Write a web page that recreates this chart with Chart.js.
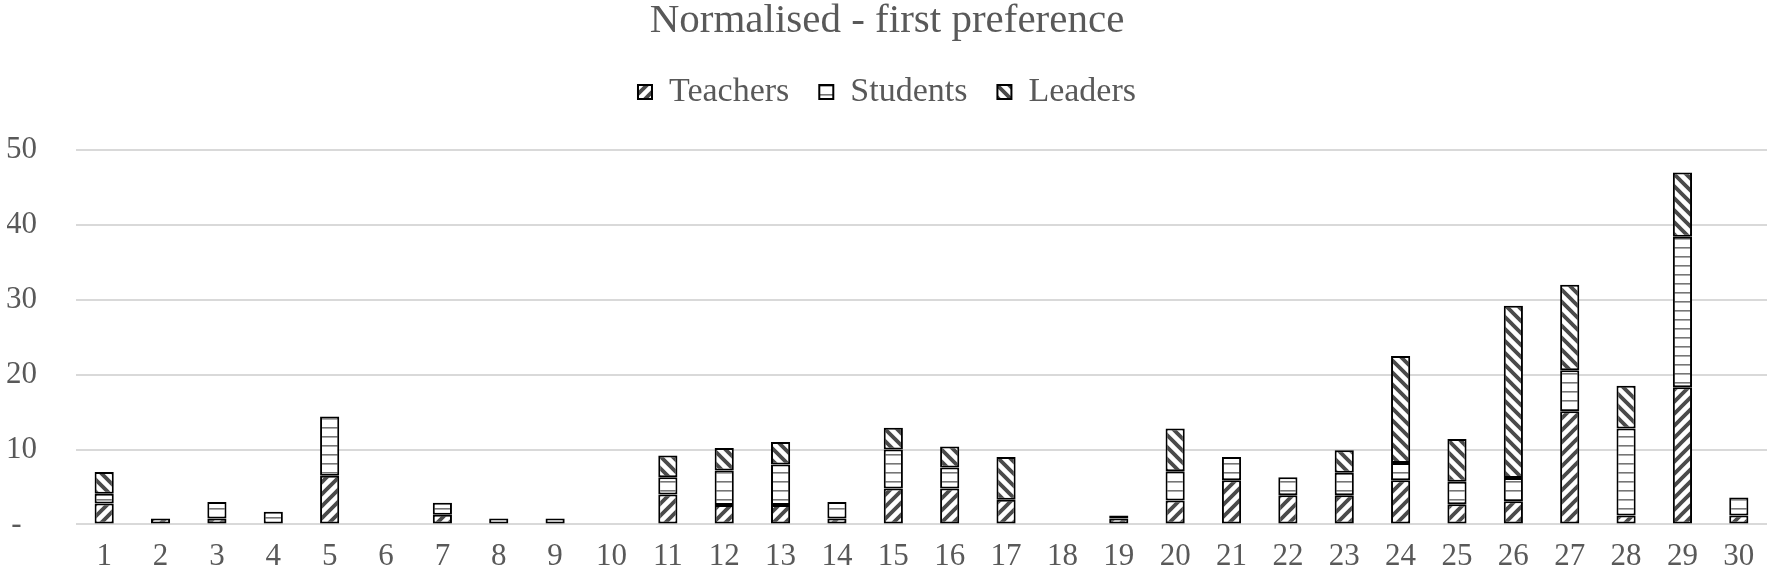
<!DOCTYPE html>
<html>
<head>
<meta charset="utf-8">
<script src="https://cdn.jsdelivr.net/npm/chart.js@4/dist/chart.umd.min.js"></script>
<style>
  html, body { margin: 0; padding: 0; background: #ffffff; }
  #wrap { width: 1772px; height: 582px; position: relative; }
</style>
</head>
<body>
<div id="wrap"><canvas id="c" width="1772" height="582"></canvas></div>
<script>
const categories = ['1','2','3','4','5','6','7','8','9','10','11','12','13','14','15','16','17','18','19','20','21','22','23','24','25','26','27','28','29','30'];
const teachers = [2.8,0.8,0.8,0,6.5,0,1.3,0,0,0,4.0,2.6,2.6,0.8,4.8,4.8,3.3,0,0.8,3.2,5.9,3.9,3.9,5.9,2.7,3.1,15.1,1.2,18.3,1.2];
const students = [1.3,0,2.2,1.7,7.9,0,1.6,0.8,0.8,0,2.3,4.6,5.4,2.2,5.2,2.8,0,0,0.4,3.9,3.1,2.4,3.0,2.3,3.0,3.1,5.5,11.6,20.1,2.4];
const leaders = [2.9,0,0,0,0,0,0,0,0,0,2.9,3.0,3.0,0,2.9,2.8,5.7,0,0,5.7,0,0,3.0,14.3,5.7,23.0,11.4,5.7,8.6,0];
const yTickLabels = {0:'-  ', 10:'10', 20:'20', 30:'30', 40:'40', 50:'50'};
const seriesNames = ['Teachers','Students','Leaders'];

function makePattern(kind) {
  const s = kind === 'horiz' ? 9 : 12;
  const cv = document.createElement('canvas');
  cv.width = s; cv.height = s;
  const g = cv.getContext('2d');
  g.fillStyle = '#ffffff';
  g.fillRect(0, 0, s, s);
  if (kind === 'horiz') {
    g.fillStyle = '#767676';
    g.fillRect(0, 4, s, 1.6);
  } else {
    g.strokeStyle = '#4a4a4a';
    g.lineWidth = 3.8;
    g.beginPath();
    if (kind === 'up') {
      g.moveTo(-2, s + 2); g.lineTo(s + 2, -2);
      g.moveTo(-s / 2 - 2, s / 2 + 2); g.lineTo(s / 2 + 2, -s / 2 - 2);
      g.moveTo(s / 2 - 2, 1.5 * s + 2); g.lineTo(1.5 * s + 2, s / 2 - 2);
    } else {
      g.moveTo(-2, -2); g.lineTo(s + 2, s + 2);
      g.moveTo(-s / 2 - 2, s / 2 - 2); g.lineTo(s / 2 + 2, 1.5 * s + 2);
      g.moveTo(s / 2 - 2, -s / 2 - 2); g.lineTo(1.5 * s + 2, s / 2 + 2);
    }
    g.stroke();
  }
  return g.createPattern(cv, 'repeat');
}

const legendSpacer = {
  id: 'legendSpacer',
  beforeInit(chart) {
    const origFit = chart.legend.fit;
    chart.legend.fit = function () {
      origFit.bind(chart.legend)();
      this.height += 31;
    };
  }
};

const textGray = '#595959';
const common = { borderColor: '#000000', borderWidth: 2, borderSkipped: false, barPercentage: 0.34, categoryPercentage: 1.0 };

new Chart(document.getElementById('c'), {
  type: 'bar',
  data: {
    labels: categories,
    datasets: [
      Object.assign({ label: seriesNames[0], data: teachers, backgroundColor: makePattern('up') }, common),
      Object.assign({ label: seriesNames[1], data: students, backgroundColor: makePattern('horiz') }, common),
      Object.assign({ label: seriesNames[2], data: leaders, backgroundColor: makePattern('down') }, common)
    ]
  },
  options: {
    responsive: false,
    animation: false,
    layout: { padding: { left: 7, right: 5, top: 0, bottom: 3 } },
    plugins: {
      title: {
        display: true,
        text: 'Normalised - first preference',
        color: textGray,
        font: { family: 'Liberation Serif', size: 41, weight: 'normal', lineHeight: 1 },
        padding: { top: 1, bottom: 3 }
      },
      legend: {
        display: true,
        position: 'top',
        labels: {
          color: textGray,
          font: { family: 'Liberation Serif', size: 34 },
          boxWidth: 14,
          boxHeight: 14,
          padding: 30
        }
      },
      tooltip: { enabled: false }
    },
    scales: {
      x: {
        stacked: true,
        grid: { display: false, drawTicks: false },
        border: { display: false },
        ticks: { color: textGray, font: { family: 'Liberation Serif', size: 31 }, padding: 14, maxRotation: 0, autoSkip: false },
        afterFit(scale) { scale.height = 50; }
      },
      y: {
        stacked: true,
        min: 0,
        max: 50,
        grid: { color: '#d9d9d9', lineWidth: 2, drawTicks: false },
        border: { display: false },
        ticks: {
          stepSize: 10,
          color: textGray,
          font: { family: 'Liberation Serif', size: 31 },
          padding: 39,
          callback: (v) => yTickLabels[v]
        },
        afterFit(scale) { scale.width = 69; }
      }
    }
  },
  plugins: [legendSpacer]
});
</script>
</body>
</html>
